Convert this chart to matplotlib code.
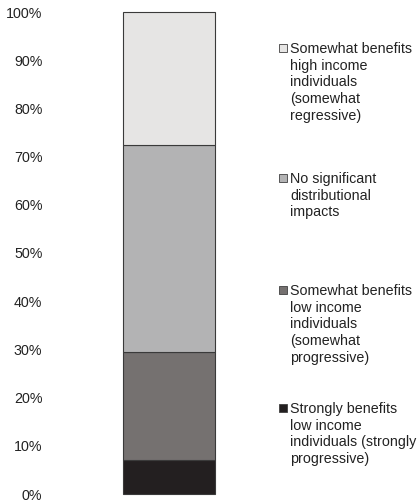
import matplotlib
matplotlib.use("Agg")
import matplotlib.pyplot as plt
from matplotlib.patches import Rectangle

plt.rcParams["font.family"] = ["Liberation Sans", "DejaVu Sans"]

# Datos (de abajo hacia arriba)
categorias = [
    "Strongly benefits\nlow income\nindividuals (strongly\nprogressive)",
    "Somewhat benefits\nlow income\nindividuals\n(somewhat\nprogressive)",
    "No significant\ndistributional\nimpacts",
    "Somewhat benefits\nhigh income\nindividuals\n(somewhat\nregressive)",
]
valores = [7.0, 22.5, 43.0, 27.5]
colores = ["#231F20", "#757170", "#B3B3B4", "#E6E5E4"]
ticks = [0, 10, 20, 30, 40, 50, 60, 70, 80, 90, 100]
tick_labels = [f"{t}%" for t in ticks]

W, H = 419, 501
fig = plt.figure(figsize=(W / 100, H / 100), dpi=100)
fig.patch.set_facecolor("white")

# eje: barra de x=123 a x=215 px, y de 12 a 494 px
ax = fig.add_axes([123 / W, (H - 494) / H, 92 / W, 482 / H])
ax.set_xlim(0, 1)
ax.set_ylim(0, 100)

base = 0
for v, c in zip(valores, colores):
    ax.bar(0, v, width=1, bottom=base, align="edge", color=c,
           edgecolor="#3A3A3A", linewidth=0.8, clip_on=False)
    base += v

ax.set_yticks(ticks)
ax.set_yticklabels(tick_labels)
ax.tick_params(axis="y", length=0, pad=58, labelsize=10.3, labelcolor="#222222")
ax.set_xticks([])
for s in ax.spines.values():
    s.set_visible(False)

# Leyenda manual (posición del primer renglón de cada entrada, en px)
primer_renglon = [408, 290, 178, 48]
paso = 16.7
for etiqueta, c, y0 in zip(categorias, colores, primer_renglon):
    fig.patches.append(Rectangle((279 / W, 1 - (y0 + 4) / H), 8 / W, 8 / H,
                                 transform=fig.transFigure, facecolor=c,
                                 edgecolor="#404040", linewidth=0.6))
    for i, linea in enumerate(etiqueta.split("\n")):
        yb = y0 + i * paso + 5
        fig.text(290 / W, 1 - yb / H, linea, fontsize=10.3, color="#222222",
                 ha="left", va="baseline")

fig.savefig("out.png", dpi=100, facecolor="white")
